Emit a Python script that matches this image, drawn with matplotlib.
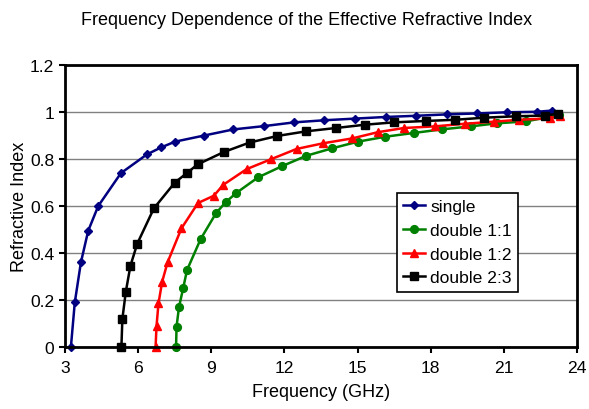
import matplotlib
matplotlib.use("Agg")
import matplotlib.pyplot as plt

plt.rcParams['font.family'] = ['Liberation Sans', 'DejaVu Sans']

single_x = [3.25, 3.41, 3.66, 3.96, 4.37, 5.30, 6.37, 6.96, 7.52, 8.71, 9.91, 11.16, 12.40, 13.64,
            14.89, 16.16, 17.40, 18.66, 19.90, 21.14, 22.34, 22.95]
single_y = [0.0, 0.19, 0.36, 0.495, 0.60, 0.74, 0.82, 0.85, 0.874, 0.90, 0.926, 0.94, 0.956, 0.965,
            0.972, 0.979, 0.984, 0.99, 0.994, 0.999, 1.001, 1.006]

d11_x = [7.56, 7.58, 7.68, 7.85, 8.01, 8.57, 9.20, 9.59, 10.02, 10.92, 11.91, 12.90, 13.97, 15.02,
         16.14, 17.30, 18.44, 19.63, 20.72, 21.89, 23.26]
d11_y = [0.0, 0.087, 0.17, 0.25, 0.328, 0.46, 0.57, 0.616, 0.655, 0.722, 0.77, 0.814, 0.846, 0.874,
         0.895, 0.911, 0.926, 0.939, 0.952, 0.96, 0.987]

d12_x = [6.72, 6.76, 6.84, 6.99, 7.21, 7.78, 8.46, 9.11, 9.49, 10.45, 11.47, 12.50, 13.59, 14.79,
         15.82, 16.89, 18.16, 19.39, 20.59, 21.61, 22.88, 23.29]
d12_y = [0.0, 0.09, 0.186, 0.278, 0.36, 0.505, 0.613, 0.644, 0.69, 0.757, 0.80, 0.843, 0.867, 0.888,
         0.914, 0.932, 0.939, 0.95, 0.959, 0.967, 0.973, 0.985]

d23_x = [5.32, 5.36, 5.50, 5.69, 5.97, 6.65, 7.51, 8.00, 8.44, 9.52, 10.57, 11.70, 12.90, 14.11,
         15.30, 16.48, 17.80, 19.00, 20.20, 21.51, 22.70, 23.20]
d23_y = [0.0, 0.12, 0.235, 0.346, 0.44, 0.59, 0.70, 0.74, 0.777, 0.83, 0.87, 0.898, 0.918, 0.932,
         0.946, 0.956, 0.962, 0.967, 0.976, 0.982, 0.985, 0.993]

x_ticks = [3, 6, 9, 12, 15, 18, 21, 24]
y_ticks = [0, 0.2, 0.4, 0.6, 0.8, 1, 1.2]
y_labels = ["0", "0.2", "0.4", "0.6", "0.8", "1", "1.2"]

fig = plt.figure(figsize=(5.89, 4.10), dpi=100)
ax = fig.add_axes([0.110, 0.151, 0.870, 0.688])

ax.plot(single_x, single_y, color='#000080', marker='D', markersize=4.2, linewidth=1.8, label='single', clip_on=False, zorder=3)
ax.plot(d11_x, d11_y, color='#008000', marker='o', markersize=5.6, linewidth=1.8, label='double 1:1', clip_on=False, zorder=3)
ax.plot(d12_x, d12_y, color='#FF0000', marker='^', markersize=6.0, linewidth=1.8, label='double 1:2', clip_on=False, zorder=3)
ax.plot(d23_x, d23_y, color='#000000', marker='s', markersize=5.5, linewidth=1.8, label='double 2:3', clip_on=False, zorder=3)

ax.set_xlim(3, 24)
ax.set_ylim(0, 1.2)
ax.set_xticks(x_ticks)
ax.set_yticks(y_ticks)
ax.set_yticklabels(y_labels)
ax.yaxis.grid(True, color='#808080', linewidth=1)
ax.set_axisbelow(True)
for s in ax.spines.values():
    s.set_linewidth(2.0)
    s.set_color('black')
    s.set_zorder(4)
ax.tick_params(axis='both', labelsize=12.6, direction='out', length=4, width=1.5)
ax.tick_params(axis='x', pad=5)
ax.tick_params(axis='y', pad=3.5)

ax.set_xlabel('Frequency (GHz)', fontsize=13, labelpad=6)
ax.set_ylabel('Refractive Index', fontsize=13, labelpad=1.5)
fig.text(0.52, 1 - 25 / 410, 'Frequency Dependence of the Effective Refractive Index',
         fontsize=13, ha='center', va='baseline')

leg = ax.legend(loc='upper left', bbox_to_anchor=(0.648, 0.546), fontsize=12.6, frameon=True,
                fancybox=False, edgecolor='black', framealpha=1, handlelength=1.25,
                borderpad=0.35, labelspacing=0.48, handletextpad=0.3, borderaxespad=0)
leg.get_frame().set_linewidth(1.2)
leg.set_zorder(5)

fig.savefig('out.png', dpi=100)
